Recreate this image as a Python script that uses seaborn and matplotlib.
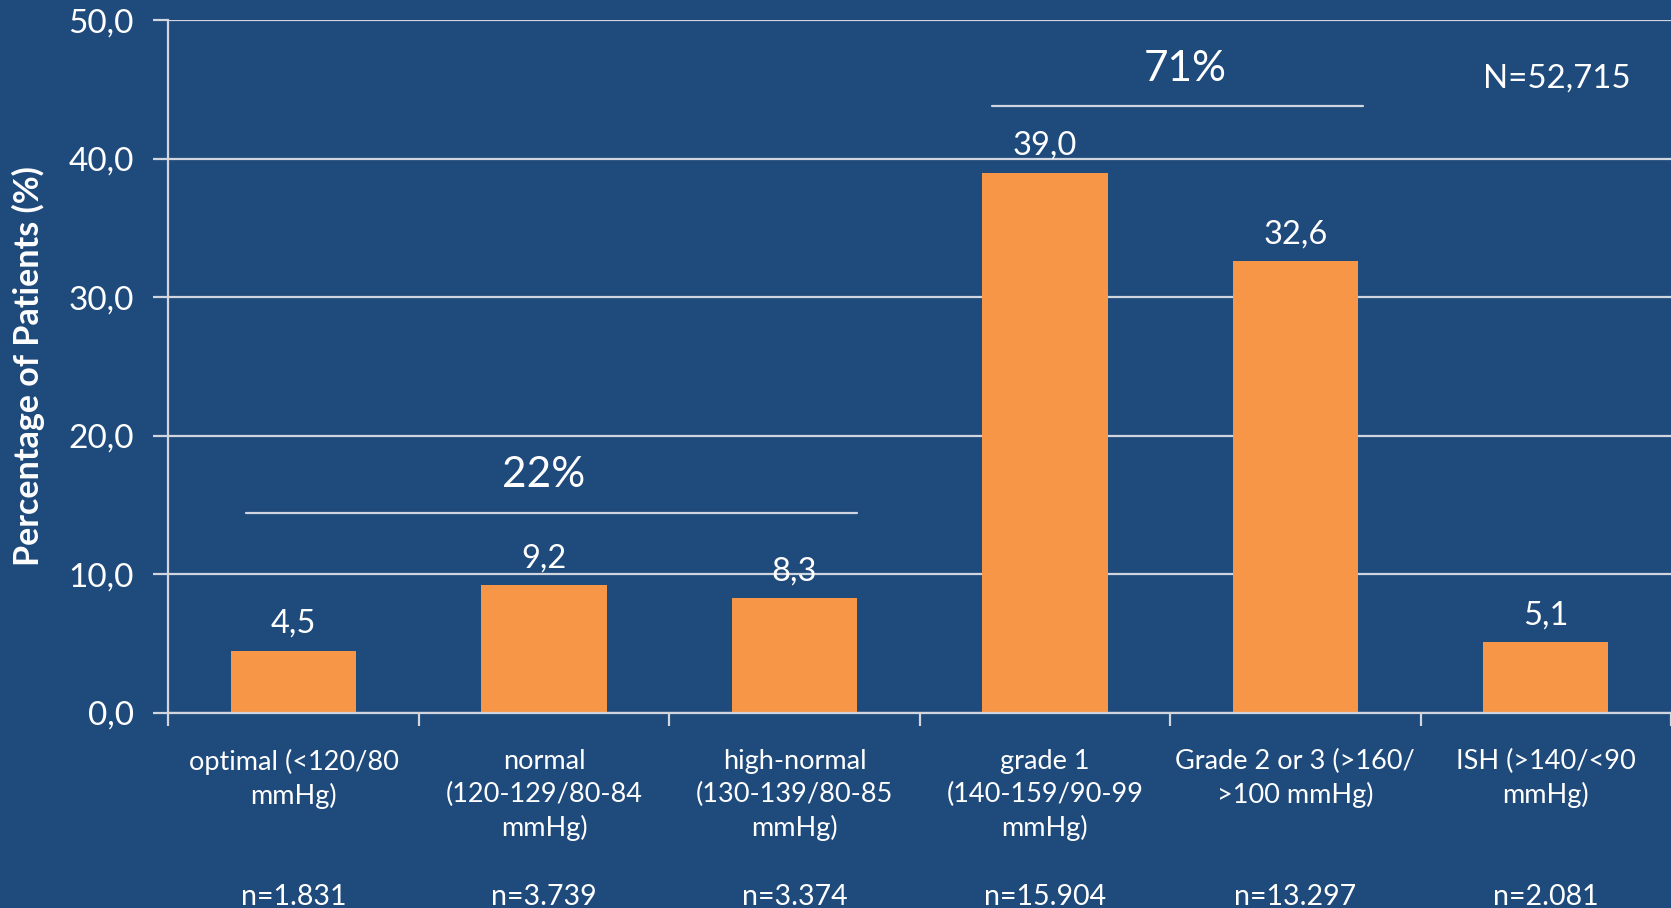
import matplotlib
matplotlib.use("Agg")
import matplotlib.pyplot as plt
import matplotlib.transforms as mtransforms
from matplotlib.ticker import FuncFormatter, FixedLocator
import seaborn as sns
import pandas as pd

categories = ["optimal (<120/80\nmmHg)", "normal\n(120-129/80-84\nmmHg)",
              "high-normal\n(130-139/80-85\nmmHg)", "grade 1\n(140-159/90-99\nmmHg)",
              "Grade 2 or 3 (>160/\n>100 mmHg)", "ISH (>140/<90\nmmHg)"]
values = [4.5, 9.2, 8.3, 39.0, 32.6, 5.1]
n_labels = ["n=1.831", "n=3.739", "n=3.374", "n=15.904", "n=13.297", "n=2.081"]
y_ticks = [0, 10, 20, 30, 40, 50]
group_labels = ["22%", "71%"]
total_label = "N=52,715"

BG = "#1F4A7C"
BAR = "#F79646"
GRID = "#D0D5DE"
TXT = "white"

sns.set_theme(style="white")
plt.rcParams['font.family'] = ['Lato', 'DejaVu Sans']

fig = plt.figure(figsize=(16.71, 9.08), dpi=100, facecolor=BG)
ax = fig.add_axes([0.1008, 0.2148, 0.8992, 0.763])
ax.set_facecolor(BG)

df = pd.DataFrame({"cat": categories, "val": values})
sns.barplot(data=df, x="cat", y="val", color=BAR, width=0.5, saturation=1,
            linewidth=0, edgecolor=BAR, ax=ax, zorder=3)

ax.set_ylim(0, 50)
ax.set_xlim(-0.5, 5.5)
ax.yaxis.set_major_locator(FixedLocator(y_ticks))
ax.yaxis.set_major_formatter(FuncFormatter(lambda v, p: f"{v:.1f}".replace('.', ',')))
ax.grid(axis='y', color=GRID, linewidth=1.6, zorder=0)
ax.set_axisbelow(True)

for s in ["top", "right"]:
    ax.spines[s].set_visible(False)
for s in ["left", "bottom"]:
    ax.spines[s].set_color(GRID)
    ax.spines[s].set_linewidth(1.6)
    ax.spines[s].set_zorder(4)

ax.tick_params(axis='y', colors=GRID, labelcolor=TXT, labelsize=24, length=11, width=1.6,
               direction='out', left=True, pad=14)
ax.tick_params(axis='x', which='major', length=0, labelcolor=TXT, labelsize=19.5, pad=26)
ax.set_xticks(range(len(categories)))
ax.set_xticklabels(categories, linespacing=1.38)
ax.set_xticks([i - 0.5 for i in range(len(categories) + 1)], minor=True)
ax.tick_params(axis='x', which='minor', bottom=True, length=9, width=1.6, color=GRID, direction='out')

ax.set_xlabel("")
ax.set_ylabel("Percentage of Patients (%)", color=TXT, fontsize=24.5, fontweight='bold')
ax.yaxis.label.set_va('center')
ax.yaxis.set_label_coords(-0.093, 0.5)

for i, v in enumerate(values):
    ax.annotate(f"{v:.1f}".replace('.', ','), (i, v), xytext=(0, 8.5), textcoords='offset points',
                ha='center', va='bottom', color=TXT, fontsize=23.5)

trans = mtransforms.blended_transform_factory(ax.transData, ax.transAxes)
for i, t in enumerate(n_labels):
    ax.text(i, -0.265, t, transform=trans, ha='center', va='center', color=TXT, fontsize=20.5)

# group brackets
ax.plot([-0.19, 2.25], [14.4, 14.4], color=GRID, linewidth=1.6, zorder=4, clip_on=False)
ax.text(1.0, 17.2, group_labels[0], ha='center', va='center', color=TXT, fontsize=30.5)
ax.plot([2.79, 4.27], [43.8, 43.8], color=GRID, linewidth=1.6, zorder=4, clip_on=False)
ax.text(3.56, 46.5, group_labels[1], ha='center', va='center', color=TXT, fontsize=30.5)
ax.text(5.34, 45.8, total_label, ha='right', va='center', color=TXT, fontsize=23.8)

fig.savefig("out.png", dpi=100, facecolor=BG)
